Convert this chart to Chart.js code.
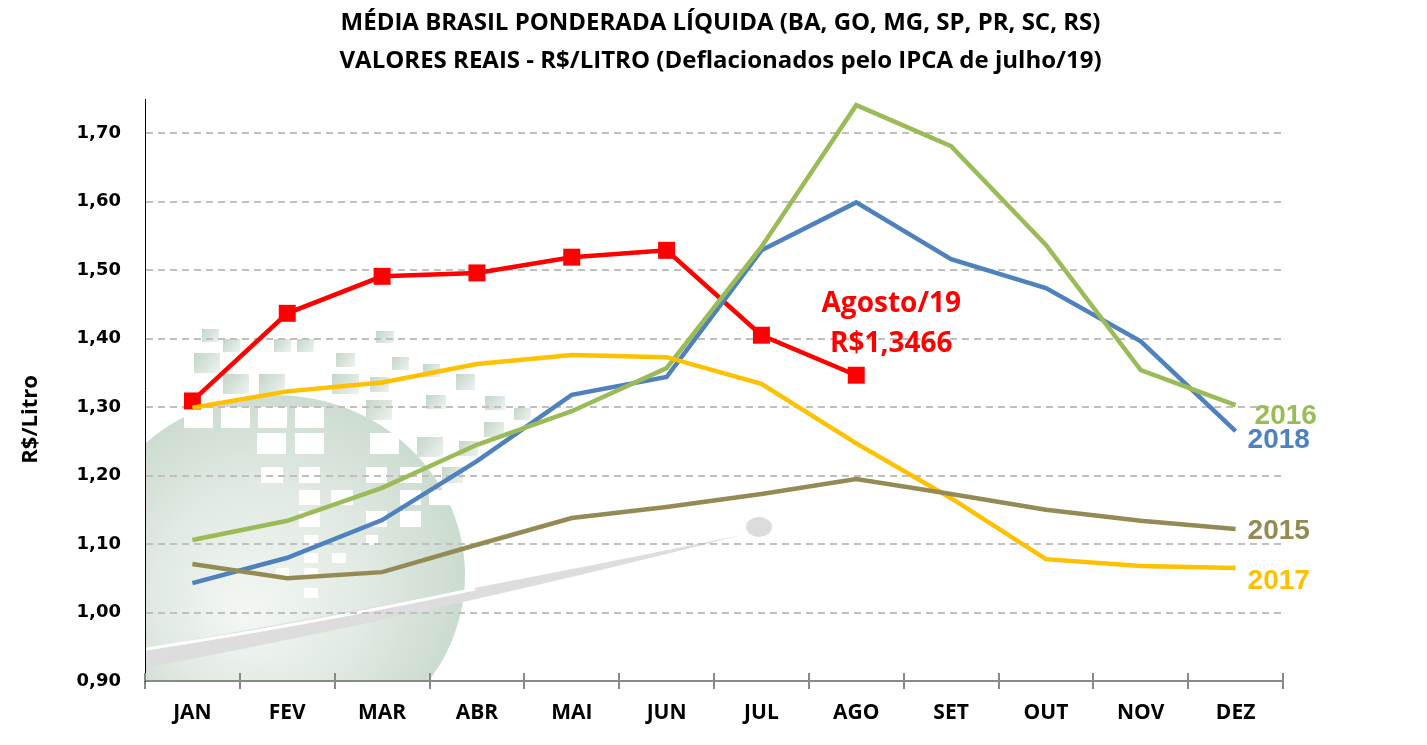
<!DOCTYPE html>
<html>
<head>
<meta charset="utf-8">
<script src="https://cdn.jsdelivr.net/npm/chart.js@4"></script>
<style>
html,body{margin:0;padding:0;background:#fff;}
#wrap{width:1427px;height:745px;}
</style>
</head>
<body>
<div id="wrap"><canvas id="c" width="1427" height="745"></canvas></div>
<script>
const months = ['JAN','FEV','MAR','ABR','MAI','JUN','JUL','AGO','SET','OUT','NOV','DEZ'];
const yTicks = [0.9,1.0,1.1,1.2,1.3,1.4,1.5,1.6,1.7];
const s2015 = [1.071,1.050,1.059,1.099,1.138,1.154,1.173,1.195,1.173,1.150,1.134,1.122];
const s2016 = [1.106,1.134,1.182,1.245,1.294,1.357,1.534,1.741,1.681,1.537,1.354,1.303];
const s2017 = [1.299,1.323,1.336,1.363,1.376,1.373,1.334,1.247,1.167,1.078,1.068,1.065];
const s2018 = [1.043,1.080,1.135,1.221,1.318,1.344,1.529,1.599,1.516,1.474,1.396,1.265];
const s2019 = [1.309,1.437,1.491,1.496,1.519,1.529,1.405,1.3466];
const titleLines = ['MÉDIA BRASIL PONDERADA LÍQUIDA (BA, GO, MG, SP, PR, SC, RS)','VALORES REAIS - R$/LITRO (Deflacionados pelo IPCA de julho/19)'];
const yTitle = 'R$/Litro';
const annotation = ['Agosto/19','R$1,3466'];

const C15='#948A54', C16='#9BBB59', C17='#FFC000', C18='#4F81BD', C19='#FF0000';

function line(label, data, color, extra){
  return Object.assign({label, data, borderColor: color, backgroundColor: color,
    borderWidth: 4.5, pointRadius: 0, tension: 0, fill: false}, extra||{});
}

// decorative watermark (globe logo) — offsets relative to the chart area's left/bottom
const greenSq = [[57,-352,17,13],[78,-342,17,13],[129,-342,17,13],[152,-342,17,13],[231,-350,18,12],
  [49,-328,26,20],[191,-328,19,14],[247,-324,17,13],[278,-317,17,13],[78,-307,26,20],[114,-307,26,20],
  [187,-307,27,20],[225,-304,19,15],[311,-307,19,16],[281,-286,20,14],[221,-281,26,20],[340,-285,20,14],
  [369,-273,17,12],[339,-259,20,15],[272,-244,26,20],[314,-240,19,15],[297,-214,21,16]];
const whiteSq = [[39,-274,29,21],[76,-274,29,21],[113,-274,29,21],[150,-274,29,21],[112,-248,29,21],
  [150,-248,29,21],[225,-248,29,21],[116,-214,22,16],[154,-214,21,16],[221,-214,21,16],[255,-214,22,16],
  [154,-191,21,15],[186,-191,22,15],[255,-191,21,15],[284,-191,21,15],[154,-170,21,16],[221,-170,21,16],
  [255,-170,21,16],[159,-146,14,10],[221,-146,12,10],[159,-128,14,10],[187,-128,14,10],[131,-113,13,10],
  [159,-113,14,10],[159,-93,14,10]];

const bgPlugin = {
  id:'bg',
  beforeDraw(chart){
    const {ctx, chartArea:a} = chart;
    ctx.save();
    ctx.beginPath(); ctx.rect(a.left, a.top, a.right-a.left, a.bottom-a.top); ctx.clip();
    const cx = a.left + 130, cy = a.bottom - 106;
    const g = ctx.createRadialGradient(cx-30, cy+40, 5, cx, cy, 195);
    g.addColorStop(0,'#F3F7F3'); g.addColorStop(0.55,'#E0E9E2'); g.addColorStop(1,'#CADACE');
    ctx.fillStyle = g;
    ctx.beginPath(); ctx.ellipse(cx, cy, 190, 180, 0, 0, Math.PI*2); ctx.fill();
    greenSq.forEach(([x,y,w,h])=>{
      const X=a.left+x, Y=a.bottom+y;
      const gg = ctx.createLinearGradient(X, Y, X+w, Y+h);
      gg.addColorStop(0,'#C3D5C8'); gg.addColorStop(1,'#EEF3EF');
      ctx.fillStyle=gg; ctx.fillRect(X,Y,w,h);
    });
    ctx.fillStyle='#FFFFFF';
    whiteSq.forEach(([x,y,w,h])=>{ ctx.fillRect(a.left+x, a.bottom+y, w, h); });
    // swoosh
    ctx.fillStyle = '#DDDDDD';
    ctx.beginPath();
    ctx.moveTo(a.left-5, a.bottom-12);
    ctx.quadraticCurveTo(a.left+300, a.bottom-70, a.left+597, a.bottom-146);
    ctx.quadraticCurveTo(a.left+300, a.bottom-85, a.left-5, a.bottom-32);
    ctx.closePath(); ctx.fill();
    ctx.strokeStyle = '#FFFFFF'; ctx.lineWidth = 3;
    ctx.beginPath(); ctx.moveTo(a.left-5, a.bottom-31);
    ctx.quadraticCurveTo(a.left+170, a.bottom-58, a.left+330, a.bottom-92); ctx.stroke();
    ctx.fillStyle='#DCDCDC';
    ctx.beginPath(); ctx.ellipse(a.left+614, a.bottom-154, 13, 10, 0, 0, Math.PI*2); ctx.fill();
    ctx.restore();
  }
};

const labelPlugin = {
  id:'labels',
  afterDatasetsDraw(chart){
    const {ctx, chartArea:a, scales:{x,y}, width} = chart;
    ctx.save();
    // title
    ctx.fillStyle='#000'; ctx.textAlign='center'; ctx.textBaseline='middle';
    ctx.font = 'bold 24px "Open Sans", sans-serif';
    ctx.fillText(titleLines[0], width/2+7, 23);
    ctx.fillText(titleLines[1], width/2+7, 61);
    // y axis title
    ctx.save();
    ctx.translate(31, y.getPixelForValue(1.282));
    ctx.rotate(-Math.PI/2);
    ctx.font = 'bold 22px "Open Sans", sans-serif';
    ctx.fillText(yTitle, 0, 0);
    ctx.restore();
    // x tick marks upwards
    ctx.strokeStyle='#898989'; ctx.lineWidth=2;
    for(let i=0;i<=months.length;i++){
      const px = Math.round(x.getPixelForValue(i-0.5));
      ctx.beginPath(); ctx.moveTo(px, a.bottom-8); ctx.lineTo(px, a.bottom); ctx.stroke();
    }
    ctx.font = 'bold 28px "Liberation Sans", Arial, sans-serif';
    ctx.textBaseline='middle'; ctx.textAlign='left';
    const last = months.length-1;
    const lx = x.getPixelForValue(last);
    const items = [[ '2016', s2016, C16, 19, 11],[ '2018', s2018, C18, 12, 9],[ '2015', s2015, C15, 12, 2],[ '2017', s2017, C17, 12, 13]];
    items.forEach(([t, d, c, dx, dy])=>{
      ctx.fillStyle=c; ctx.fillText(t, lx+dx, y.getPixelForValue(d[last])+dy);
    });
    // annotation
    const ai = s2019.length-1;
    const ax = x.getPixelForValue(ai)+35, ay = y.getPixelForValue(s2019[ai]);
    ctx.font = 'bold 28px "Open Sans", sans-serif';
    ctx.fillStyle = C19; ctx.textAlign='center';
    ctx.fillText(annotation[0], ax, ay-71);
    ctx.fillText(annotation[1], ax, ay-31);
    ctx.restore();
  }
};

new Chart(document.getElementById('c'), {
  type:'line',
  data:{
    labels: months,
    datasets:[
      line('2015', s2015, C15),
      line('2017', s2017, C17),
      line('2016', s2016, C16),
      line('2018', s2018, C18),
      line('2019', s2019, C19, {borderWidth:4.5, pointRadius: 12, pointStyle:'rect', pointBackgroundColor: C19, pointBorderColor: C19, pointBorderWidth:0, pointHoverRadius:12})
    ]
  },
  options:{
    responsive:false, animation:false, devicePixelRatio:1,
    layout:{padding:{left:0,right:144,top:99,bottom:0}},
    plugins:{
      legend:{display:false}, tooltip:{enabled:false}, title:{display:false}
    },
    scales:{
      x:{
        offset:true,
        grid:{display:true, drawOnChartArea:false, drawTicks:true, tickLength:8, color:'#898989', lineWidth:2, offset:true},
        border:{display:true, color:'#898989', width:2},
        ticks:{color:'#000', padding:11, font:{family:'"Open Sans", sans-serif', size:21, weight:'bold'}},
        afterFit(s){ s.height = 64; }
      },
      y:{
        min:0.9, max:1.75,
        afterBuildTicks(s){ s.ticks = yTicks.map(v=>({value:v})); },
        grid:{color:'#BFBFBF', lineWidth:2, drawTicks:false},
        border:{display:true, color:'#000', width:1, dash:[7,5]},
        ticks:{color:'#000', padding:24, font:{family:'"DejaVu Sans", sans-serif', size:18, weight:'bold'},
          callback:(v)=>Number(v).toFixed(2).replace('.',',')},
        title:{display:false},
        afterFit(s){ s.width = 145; }
      }
    }
  },
  plugins:[bgPlugin, labelPlugin]
});
</script>
</body>
</html>
